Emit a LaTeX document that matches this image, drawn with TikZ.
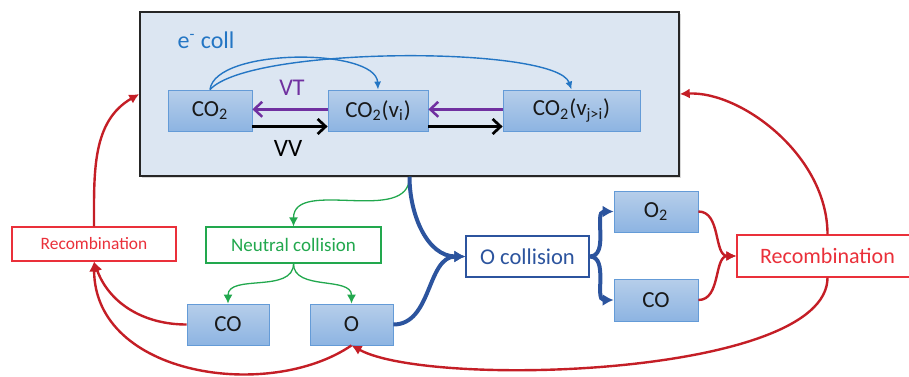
\documentclass[tikz,border=0pt]{standalone}
\usepackage{fontspec}
\setmainfont{Carlito}
\usetikzlibrary{arrows,arrows.meta,shadows}

\definecolor{reactorfill}{RGB}{220,230,242}
\definecolor{speciestop}{RGB}{182,206,234}
\definecolor{speciesbot}{RGB}{141,180,226}
\definecolor{speciesedge}{RGB}{100,155,215}
\definecolor{ecollblue}{RGB}{36,118,196}
\definecolor{vtpurple}{RGB}{112,48,160}
\definecolor{neutralgreen}{RGB}{34,168,78}
\definecolor{ocolldark}{RGB}{44,84,158}
\definecolor{recombred}{RGB}{196,30,38}
\definecolor{recombtext}{RGB}{234,48,58}

\begin{document}
\begin{tikzpicture}[x=0.5pt,y=0.5pt]
  \tikzstyle{species}=[rectangle,draw=speciesedge,top color=speciestop,bottom color=speciesbot,
                       text=black!90,inner sep=0pt,minimum height=20.5pt,font=\fontsize{11.5}{13}\selectfont]
  \tikzstyle{process}=[rectangle,fill=white,inner sep=0pt,line width=0.6pt]
  \tikzstyle{ecoll}=[-{Latex[length=4pt,width=3.5pt]},draw=ecollblue,line width=0.7pt]
  \tikzstyle{vt}=[-{Straight Barb[length=4pt,width=7.5pt]},draw=vtpurple,line width=1.25pt]
  \tikzstyle{vv}=[-{Straight Barb[length=4pt,width=7.5pt]},draw=black,line width=1.35pt]
  \tikzstyle{neutral}=[-{Latex[length=4.5pt,width=4.5pt]},draw=neutralgreen,line width=0.65pt]
  \tikzstyle{ocollarrow}=[-{Latex[length=5.5pt,width=6pt]},draw=ocolldark,line width=2pt]
  \tikzstyle{recomb}=[-{Latex[length=5pt,width=5pt]},draw=recombred,line width=1.2pt]

  \useasboundingbox (0,0) rectangle (909,376);

  % e- collision box
  \node [rectangle,draw=black!85,fill=reactorfill,line width=0.75pt,minimum width=269.5pt,
         minimum height=82pt,drop shadow={shadow xshift=1pt,shadow yshift=-1.2pt,opacity=0.3}]
        (reactor) at (409.5,282) {};
  \node [text=ecollblue,font=\fontsize{12}{14}\selectfont] (ecolltext) at (206,336) {e\textsuperscript{-} coll};
  \node [species,minimum width=42pt] (co2) at (210,265.5) {CO\textsubscript{2}};
  \node [species,minimum width=50pt] (co2vi) at (378,265.5) {CO\textsubscript{2}(v\textsubscript{i})};
  \node [species,minimum width=68.5pt] (co2vj) at (571.5,265.5) {CO\textsubscript{2}(v\textsubscript{j>i})};
  \node [text=vtpurple,font=\fontsize{12}{14}\selectfont] (vtlabel) at (292,288) {VT};
  \node [font=\fontsize{12.5}{14}\selectfont] (vvlabel) at (288,228) {VV};

  \draw [ecoll] (co2.north) .. controls +(5,42) and +(-2,42) .. (co2vi.north);
  \draw [ecoll] (co2.north) .. controls +(40,44) and +(-15,44) .. (co2vj.north);
  \draw [vt] ([yshift=0.6pt]co2vi.west) -- ([yshift=0.6pt]co2.east);
  \draw [vt] ([yshift=0.6pt]co2vj.west) -- ([yshift=0.6pt]co2vi.east);
  \draw [vv] ([yshift=-8pt]co2.east) -- ([yshift=-8pt]co2vi.west);
  \draw [vv] ([yshift=-8pt]co2vi.east) -- ([yshift=-8pt]co2vj.west);

  % products
  \node [process,draw=recombtext,text=recombtext,minimum width=82pt,minimum height=17pt,
         font=\fontsize{8.7}{10}\selectfont] (recL) at (94,132) {Recombination};
  \node [process,draw=neutralgreen,text=neutralgreen,minimum width=87.5pt,minimum height=18pt,
         font=\fontsize{9.5}{11}\selectfont] (neutral) at (293.5,131) {Neutral collision};
  \node [species,minimum width=41pt] (coL) at (228,51.5) {CO};
  \node [species,minimum width=41.5pt] (oL) at (351.5,51.5) {O};
  \node [process,draw=ocolldark,text=ocolldark,minimum width=61.5pt,minimum height=20.5pt,
         font=\fontsize{11.3}{13}\selectfont] (ocoll) at (527.5,119.5) {O collision};
  \node [species,minimum width=42pt] (o2) at (656,164.5) {O\textsubscript{2}};
  \node [species,minimum width=42pt,minimum height=21pt] (coR) at (656,76) {CO};
  \node [process,draw=recombtext,text=recombtext,minimum width=90.5pt,minimum height=21pt,
         font=\fontsize{11}{13}\selectfont] (recR) at (827.5,120) {Recombination};

  \draw [neutral] (reactor.south) to[out=-90,in=90] (neutral.north);
  \draw [neutral] (neutral.south) to[out=-90,in=90] (coL.north);
  \draw [neutral] (neutral.south) to[out=-90,in=90] (oL.north);

  \draw [ocollarrow] (reactor.south) to[out=-90,in=180] (ocoll.west);
  \draw [ocollarrow] (oL.east) to[out=0,in=180] (ocoll.west);
  \draw [ocollarrow] (ocoll.east) to[out=0,in=180] (o2.west);
  \draw [ocollarrow] (ocoll.east) to[out=0,in=180] (coR.west);

  \draw [recomb] (o2.east) to[out=0,in=180] (recR.west);
  \draw [recomb] (coR.east) to[out=0,in=180] (recR.west);
  \draw [recomb] (recR.north) .. controls +(0,79) and +(61,3) .. (reactor.east);
  \draw [recomb] (recR.south) .. controls +(0,-99) and +(78.5,-43) .. (oL.south);
  \draw [recomb] (oL.south) .. controls +(-82,-56) and +(1,-115) .. (recL.south);
  \draw [recomb] (coL.west) to[out=180,in=-70] (recL.south);
  \draw [recomb] (recL.north) to[out=90,in=210] (reactor.west);
\end{tikzpicture}
\end{document}
